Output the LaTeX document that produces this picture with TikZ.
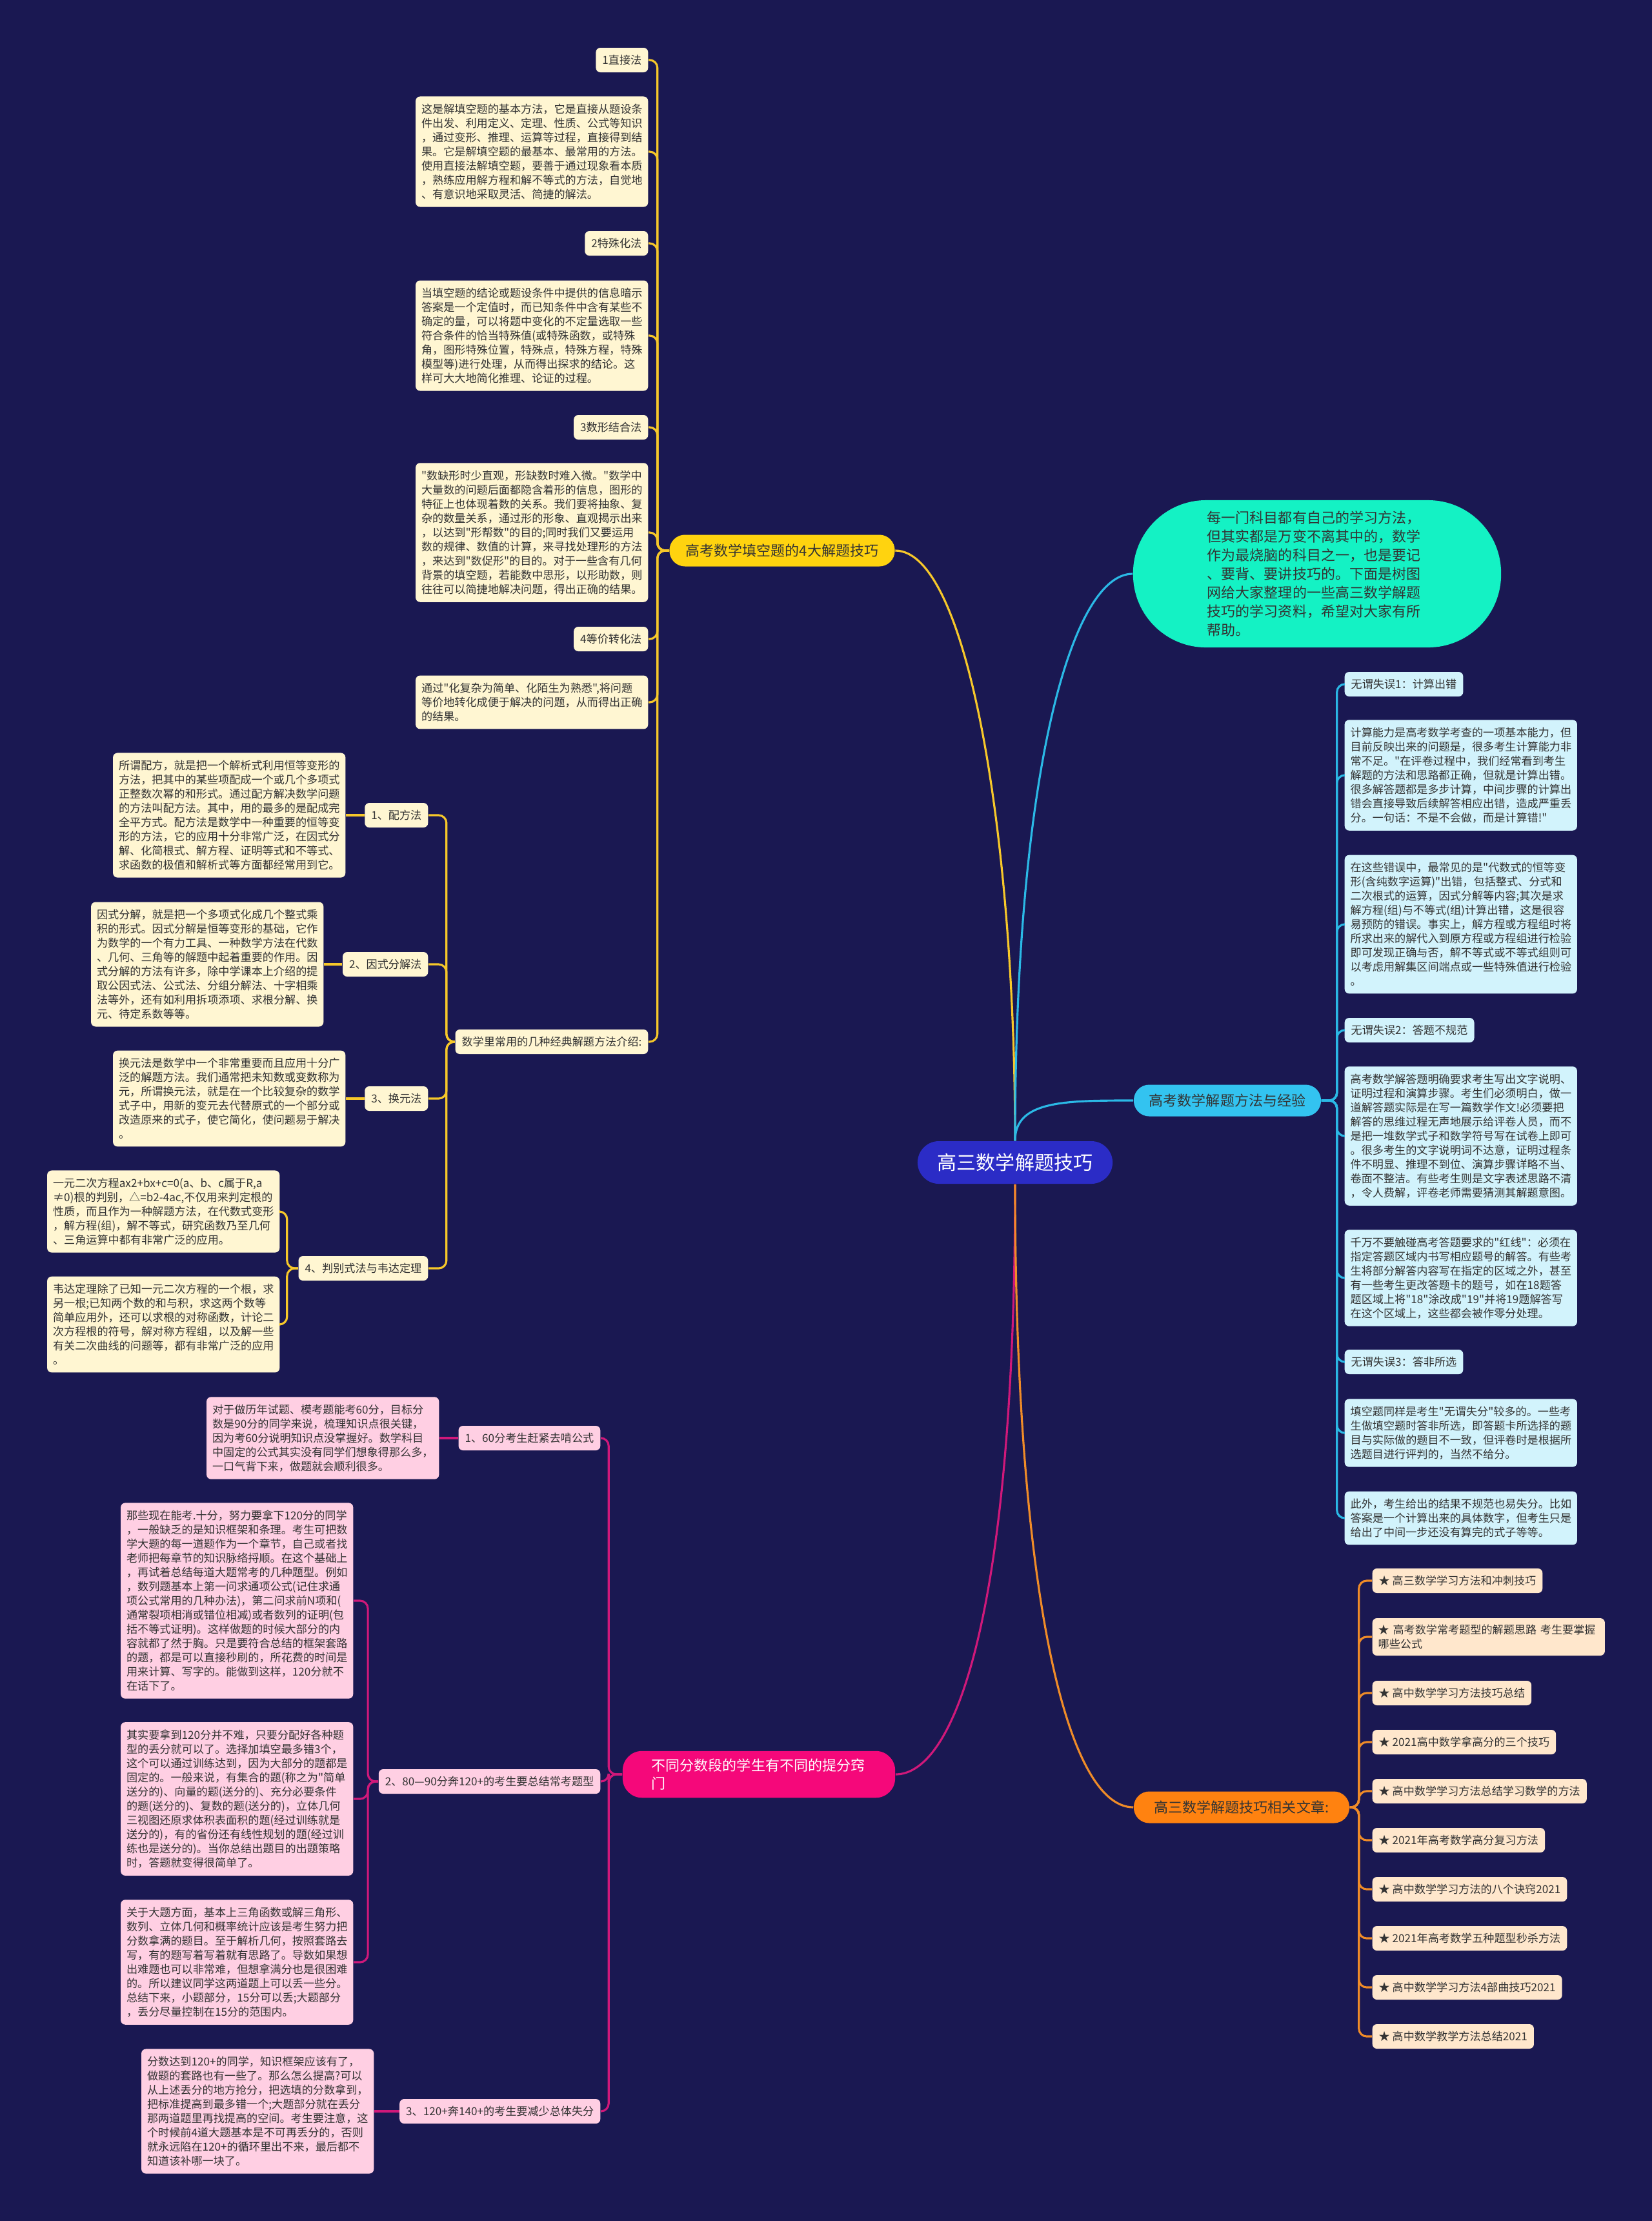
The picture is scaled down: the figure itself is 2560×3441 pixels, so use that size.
\documentclass[tikz,border=0pt]{standalone}
\usepackage{fontspec}
\newfontfamily\notocjk{Noto Sans CJK SC}

\definecolor{bgnavy}{HTML}{1A1852}
\definecolor{rootblue}{HTML}{2B2CC6}
\definecolor{goldline}{HTML}{F7C82A}
\definecolor{goldfill}{HTML}{FFD30F}
\definecolor{creamfill}{HTML}{FFF6D2}
\definecolor{pinkline}{HTML}{D0187A}
\definecolor{pinkfill}{HTML}{F5087A}
\definecolor{rosefill}{HTML}{FFCFE3}
\definecolor{skyline}{HTML}{2BB9E6}
\definecolor{skyfill}{HTML}{33C3F0}
\definecolor{icefill}{HTML}{D2F3FC}
\definecolor{aquafill}{HTML}{14F2C4}
\definecolor{amberline}{HTML}{F08C28}
\definecolor{amberfill}{HTML}{FF8210}
\definecolor{peachfill}{HTML}{FFE7CC}
\definecolor{inkdark}{HTML}{333333}

\newcommand\leafsize{\notocjk\fontsize{4.87pt}{6.26pt}\selectfont}
\newcommand\branchsize{\notocjk\fontsize{6.26pt}{7.5pt}\selectfont}
\newcommand\pinksize{\notocjk\fontsize{6.26pt}{7.97pt}\selectfont}
\newcommand\introsize{\notocjk\fontsize{6.26pt}{8.25pt}\selectfont}
\newcommand\rootsize{\notocjk\fontsize{8.54pt}{10pt}\selectfont}

\begin{document}
\begin{tikzpicture}[x=0.01cm, y=-0.01cm,
    leafbox/.style={rectangle, rounded corners=0.07cm, text=inkdark, font=\leafsize, align=left, text width=3.42cm, inner xsep=0.09cm, inner ysep=0.115cm},
    tagbox/.style={rectangle, rounded corners=0.07cm, text=inkdark, font=\leafsize, inner xsep=0.1cm, inner ysep=0pt, minimum height=0.38cm},
    branchbox/.style={rectangle, rounded corners=0.24cm, text=inkdark, font=\branchsize, minimum height=0.49cm, inner ysep=0pt},
    wire/.style={line width=0.9pt, rounded corners=0.12cm}]

    \fill[bgnavy] (0,0) rectangle (2560,3441);
    \useasboundingbox (0,0) rectangle (2560,3441);

    % centre
    \node[rectangle, rounded corners=0.33cm, fill=rootblue, text=white, font=\rootsize, minimum width=3.02cm, minimum height=0.66cm] (Root) at (1573,1801) {高三数学解题技巧};

    % yellow branch
    \node[branchbox, fill=goldfill, minimum width=3.49cm] (FillTips) at (1212,853) {高考数学填空题的4大解题技巧};
    \node[tagbox, fill=creamfill, anchor=east] (Direct) at (1005,93) {1直接法};
    \node[leafbox, fill=creamfill, anchor=east] (DirectNote) at (1005,235) {这是解填空题的基本方法，它是直接从题设条\\件出发、利用定义、定理、性质、公式等知识\\，通过变形、推理、运算等过程，直接得到结\\果。它是解填空题的最基本、最常用的方法。\\使用直接法解填空题，要善于通过现象看本质\\，熟练应用解方程和解不等式的方法，自觉地\\、有意识地采取灵活、简捷的解法。};
    \node[tagbox, fill=creamfill, anchor=east] (Special) at (1005,377) {2特殊化法};
    \node[leafbox, fill=creamfill, anchor=east] (SpecialNote) at (1005,520) {当填空题的结论或题设条件中提供的信息暗示\\答案是一个定值时，而已知条件中含有某些不\\确定的量，可以将题中变化的不定量选取一些\\符合条件的恰当特殊值(或特殊函数，或特殊\\角，图形特殊位置，特殊点，特殊方程，特殊\\模型等)进行处理，从而得出探求的结论。这\\样可大大地简化推理、论证的过程。};
    \node[tagbox, fill=creamfill, anchor=east] (Shape) at (1005,662) {3数形结合法};
    \node[leafbox, fill=creamfill, anchor=east] (ShapeNote) at (1005,825) {"数缺形时少直观，形缺数时难入微。"数学中\\大量数的问题后面都隐含着形的信息，图形的\\特征上也体现着数的关系。我们要将抽象、复\\杂的数量关系，通过形的形象、直观揭示出来\\，以达到"形帮数"的目的;同时我们又要运用\\数的规律、数值的计算，来寻找处理形的方法\\，来达到"数促形"的目的。对于一些含有几何\\背景的填空题，若能数中思形，以形助数，则\\往往可以简捷地解决问题，得出正确的结果。};
    \node[tagbox, fill=creamfill, anchor=east] (Equiv) at (1005,990) {4等价转化法};
    \node[leafbox, fill=creamfill, anchor=east] (EquivNote) at (1005,1088) {通过"化复杂为简单、化陌生为熟悉",将问题\\等价地转化成便于解决的问题，从而得出正确\\的结果。};
    \node[tagbox, fill=creamfill, anchor=east] (Classic) at (1005,1614) {数学里常用的几种经典解题方法介绍:};

    \node[tagbox, fill=creamfill, anchor=east] (Square) at (664,1263) {1、配方法};
    \node[leafbox, fill=creamfill, anchor=east] (SquareNote) at (536,1263) {所谓配方，就是把一个解析式利用恒等变形的\\方法，把其中的某些项配成一个或几个多项式\\正整数次幂的和形式。通过配方解决数学问题\\的方法叫配方法。其中，用的最多的是配成完\\全平方式。配方法是数学中一种重要的恒等变\\形的方法，它的应用十分非常广泛，在因式分\\解、化简根式、解方程、证明等式和不等式、\\求函数的极值和解析式等方面都经常用到它。};
    \node[tagbox, fill=creamfill, anchor=east] (Factor) at (664,1494) {2、因式分解法};
    \node[leafbox, fill=creamfill, anchor=east] (FactorNote) at (502,1494) {因式分解，就是把一个多项式化成几个整式乘\\积的形式。因式分解是恒等变形的基础，它作\\为数学的一个有力工具、一种数学方法在代数\\、几何、三角等的解题中起着重要的作用。因\\式分解的方法有许多，除中学课本上介绍的提\\取公因式法、公式法、分组分解法、十字相乘\\法等外，还有如利用拆项添项、求根分解、换\\元、待定系数等等。};
    \node[tagbox, fill=creamfill, anchor=east] (Subst) at (664,1702) {3、换元法};
    \node[leafbox, fill=creamfill, anchor=east] (SubstNote) at (536,1702) {换元法是数学中一个非常重要而且应用十分广\\泛的解题方法。我们通常把未知数或变数称为\\元，所谓换元法，就是在一个比较复杂的数学\\式子中，用新的变元去代替原式的一个部分或\\改造原来的式子，使它简化，使问题易于解决\\。};
    \node[tagbox, fill=creamfill, anchor=east] (Discrim) at (664,1965) {4、判别式法与韦达定理};
    \node[leafbox, fill=creamfill, anchor=east] (DiscrimNote) at (434,1877) {一元二次方程ax2+bx+c=0(a、b、c属于R,a\\≠0)根的判别，△=b2-4ac,不仅用来判定根的\\性质，而且作为一种解题方法，在代数式变形\\，解方程(组)，解不等式，研究函数乃至几何\\、三角运算中都有非常广泛的应用。};
    \node[leafbox, fill=creamfill, anchor=east] (VietaNote) at (434,2052) {韦达定理除了已知一元二次方程的一个根，求\\另一根;已知两个数的和与积，求这两个数等\\简单应用外，还可以求根的对称函数，计论二\\次方程根的符号，解对称方程组，以及解一些\\有关二次曲线的问题等，都有非常广泛的应用\\。};

    \draw[wire, goldline] (FillTips.west) -- ++(-18,0) |- (Direct.east);
    \draw[wire, goldline] (FillTips.west) -- ++(-18,0) |- (DirectNote.east);
    \draw[wire, goldline] (FillTips.west) -- ++(-18,0) |- (Special.east);
    \draw[wire, goldline] (FillTips.west) -- ++(-18,0) |- (SpecialNote.east);
    \draw[wire, goldline] (FillTips.west) -- ++(-18,0) |- (Shape.east);
    \draw[wire, goldline] (FillTips.west) -- ++(-18,0) |- (ShapeNote.east);
    \draw[wire, goldline] (FillTips.west) -- ++(-18,0) |- (Equiv.east);
    \draw[wire, goldline] (FillTips.west) -- ++(-18,0) |- (EquivNote.east);
    \draw[wire, goldline] (FillTips.west) -- ++(-18,0) |- (Classic.east);
    \draw[wire, goldline] (Classic.west) -- ++(-13,0) |- (Square.east);
    \draw[wire, goldline] (Classic.west) -- ++(-13,0) |- (Factor.east);
    \draw[wire, goldline] (Classic.west) -- ++(-13,0) |- (Subst.east);
    \draw[wire, goldline] (Classic.west) -- ++(-13,0) |- (Discrim.east);
    \draw[wire, goldline] (Square.west) -- (SquareNote.east);
    \draw[wire, goldline] (Factor.west) -- (FactorNote.east);
    \draw[wire, goldline] (Subst.west) -- (SubstNote.east);
    \draw[wire, goldline] (Discrim.west) -- ++(-17,0) |- (DiscrimNote.east);
    \draw[wire, goldline] (Discrim.west) -- ++(-17,0) |- (VietaNote.east);

    % pink branch
    \node[branchbox, fill=pinkfill, text=white, font=\pinksize, align=left, text width=3.32cm, inner xsep=0.45cm, inner ysep=0.12cm, rounded corners=0.3cm] (ScoreTips) at (1176,2749) {不同分数段的学生有不同的提分窍\\门};
    \node[tagbox, fill=rosefill, anchor=east] (Score60) at (931,2228) {1、60分考生赶紧去啃公式};
    \node[leafbox, fill=rosefill, anchor=east] (Score60Note) at (681,2228) {对于做历年试题、模考题能考60分，目标分\\数是90分的同学来说，梳理知识点很关键，\\因为考60分说明知识点没掌握好。数学科目\\中固定的公式其实没有同学们想象得那么多，\\一口气背下来，做题就会顺利很多。};
    \node[tagbox, fill=rosefill, anchor=east] (Score120) at (931,2760) {2、80—90分奔120+的考生要总结常考题型};
    \node[leafbox, fill=rosefill, anchor=east] (Score120NoteA) at (548,2480) {那些现在能考.十分，努力要拿下120分的同学\\，一般缺乏的是知识框架和条理。考生可把数\\学大题的每一道题作为一个章节，自己或者找\\老师把每章节的知识脉络捋顺。在这个基础上\\，再试着总结每道大题常考的几种题型。例如\\，数列题基本上第一问求通项公式(记住求通\\项公式常用的几种办法)，第二问求前N项和(\\通常裂项相消或错位相减)或者数列的证明(包\\括不等式证明)。这样做题的时候大部分的内\\容就都了然于胸。只是要符合总结的框架套路\\的题，都是可以直接秒刷的，所花费的时间是\\用来计算、写字的。能做到这样，120分就不\\在话下了。};
    \node[leafbox, fill=rosefill, anchor=east] (Score120NoteB) at (548,2787) {其实要拿到120分并不难，只要分配好各种题\\型的丢分就可以了。选择加填空最多错3个，\\这个可以通过训练达到，因为大部分的题都是\\固定的。一般来说，有集合的题(称之为"简单\\送分的)、向量的题(送分的)、充分必要条件\\的题(送分的)、复数的题(送分的)，立体几何\\三视图还原求体积表面积的题(经过训练就是\\送分的)，有的省份还有线性规划的题(经过训\\练也是送分的)。当你总结出题目的出题策略\\时，答题就变得很简单了。};
    \node[leafbox, fill=rosefill, anchor=east] (Score120NoteC) at (548,3040) {关于大题方面，基本上三角函数或解三角形、\\数列、立体几何和概率统计应该是考生努力把\\分数拿满的题目。至于解析几何，按照套路去\\写，有的题写着写着就有思路了。导数如果想\\出难题也可以非常难，但想拿满分也是很困难\\的。所以建议同学这两道题上可以丢一些分。\\总结下来，小题部分，15分可以丢;大题部分\\，丢分尽量控制在15分的范围内。};
    \node[tagbox, fill=rosefill, anchor=east] (Score140) at (931,3271) {3、120+奔140+的考生要减少总体失分};
    \node[leafbox, fill=rosefill, anchor=east] (Score140Note) at (580,3271) {分数达到120+的同学，知识框架应该有了，\\做题的套路也有一些了。那么怎么提高?可以\\从上述丢分的地方抢分，把选填的分数拿到，\\把标准提高到最多错一个;大题部分就在丢分\\那两道题里再找提高的空间。考生要注意，这\\个时候前4道大题基本是不可再丢分的，否则\\就永远陷在120+的循环里出不来，最后都不\\知道该补哪一块了。};

    \draw[wire, pinkline] (ScoreTips.west) -- ++(-21,0) |- (Score60.east);
    \draw[wire, pinkline] (ScoreTips.west) -- ++(-21,0) |- (Score120.east);
    \draw[wire, pinkline] (ScoreTips.west) -- ++(-21,0) |- (Score140.east);
    \draw[wire, pinkline] (Score60.west) -- (Score60Note.east);
    \draw[wire, pinkline] (Score120.west) -- ++(-16,0) |- (Score120NoteA.east);
    \draw[wire, pinkline] (Score120.west) -- ++(-16,0) |- (Score120NoteB.east);
    \draw[wire, pinkline] (Score120.west) -- ++(-16,0) |- (Score120NoteC.east);
    \draw[wire, pinkline] (Score140.west) -- (Score140Note.east);

    % intro bubble
    \node[rectangle, rounded corners=1.13cm, fill=aquafill, text=inkdark, font=\introsize, align=left, text width=3.4cm, minimum width=5.7cm, minimum height=2.28cm] (Intro) at (2041,889) {每一门科目都有自己的学习方法，\\但其实都是万变不离其中的，数学\\作为最烧脑的科目之一，也是要记\\、要背、要讲技巧的。下面是树图\\网给大家整理的一些高三数学解题\\技巧的学习资料，希望对大家有所\\帮助。};

    % cyan branch
    \node[branchbox, fill=skyfill, minimum width=2.9cm] (Method) at (1902,1705) {高考数学解题方法与经验};
    \node[tagbox, fill=icefill, anchor=west] (Slip1) at (2083,1060) {无谓失误1：计算出错};
    \node[leafbox, fill=icefill, anchor=west] (Slip1NoteA) at (2083,1201) {计算能力是高考数学考查的一项基本能力，但\\目前反映出来的问题是，很多考生计算能力非\\常不足。"在评卷过程中，我们经常看到考生\\解题的方法和思路都正确，但就是计算出错。\\很多解答题都是多步计算，中间步骤的计算出\\错会直接导致后续解答相应出错，造成严重丢\\分。一句话：不是不会做，而是计算错!"};
    \node[leafbox, fill=icefill, anchor=west] (Slip1NoteB) at (2083,1432) {在这些错误中，最常见的是"代数式的恒等变\\形(含纯数字运算)"出错，包括整式、分式和\\二次根式的运算，因式分解等内容;其次是求\\解方程(组)与不等式(组)计算出错，这是很容\\易预防的错误。事实上，解方程或方程组时将\\所求出来的解代入到原方程或方程组进行检验\\即可发现正确与否，解不等式或不等式组则可\\以考虑用解集区间端点或一些特殊值进行检验\\。};
    \node[tagbox, fill=icefill, anchor=west] (Slip2) at (2083,1596) {无谓失误2：答题不规范};
    \node[leafbox, fill=icefill, anchor=west] (Slip2NoteA) at (2083,1760) {高考数学解答题明确要求考生写出文字说明、\\证明过程和演算步骤。考生们必须明白，做一\\道解答题实际是在写一篇数学作文!必须要把\\解答的思维过程无声地展示给评卷人员，而不\\是把一堆数学式子和数学符号写在试卷上即可\\。很多考生的文字说明词不达意，证明过程条\\件不明显、推理不到位、演算步骤详略不当、\\卷面不整洁。有些考生则是文字表述思路不清\\，令人费解，评卷老师需要猜测其解题意图。};
    \node[leafbox, fill=icefill, anchor=west] (Slip2NoteB) at (2083,1980) {千万不要触碰高考答题要求的"红线"：必须在\\指定答题区域内书写相应题号的解答。有些考\\生将部分解答内容写在指定的区域之外，甚至\\有一些考生更改答题卡的题号，如在18题答\\题区域上将"18"涂改成"19"并将19题解答写\\在这个区域上，这些都会被作零分处理。};
    \node[tagbox, fill=icefill, anchor=west] (Slip3) at (2083,2110) {无谓失误3：答非所选};
    \node[leafbox, fill=icefill, anchor=west] (Slip3NoteA) at (2083,2220) {填空题同样是考生"无谓失分"较多的。一些考\\生做填空题时答非所选，即答题卡所选择的题\\目与实际做的题目不一致，但评卷时是根据所\\选题目进行评判的，当然不给分。};
    \node[leafbox, fill=icefill, anchor=west] (Slip3NoteB) at (2083,2352) {此外，考生给出的结果不规范也易失分。比如\\答案是一个计算出来的具体数字，但考生只是\\给出了中间一步还没有算完的式子等等。};

    \draw[wire, skyline] (Method.east) -- ++(24,0) |- (Slip1.west);
    \draw[wire, skyline] (Method.east) -- ++(24,0) |- (Slip1NoteA.west);
    \draw[wire, skyline] (Method.east) -- ++(24,0) |- (Slip1NoteB.west);
    \draw[wire, skyline] (Method.east) -- ++(24,0) |- (Slip2.west);
    \draw[wire, skyline] (Method.east) -- ++(24,0) |- (Slip2NoteA.west);
    \draw[wire, skyline] (Method.east) -- ++(24,0) |- (Slip2NoteB.west);
    \draw[wire, skyline] (Method.east) -- ++(24,0) |- (Slip3.west);
    \draw[wire, skyline] (Method.east) -- ++(24,0) |- (Slip3NoteA.west);
    \draw[wire, skyline] (Method.east) -- ++(24,0) |- (Slip3NoteB.west);

    % orange branch
    \node[branchbox, fill=amberfill, minimum width=3.34cm] (Related) at (1924,2800) {高三数学解题技巧相关文章:};
    \node[tagbox, fill=peachfill, anchor=west] (Art1) at (2126,2449) {★ 高三数学学习方法和冲刺技巧};
    \node[leafbox, fill=peachfill, anchor=west, inner ysep=0.1cm] (Art2) at (2126,2536) {★~高考数学常考题型的解题思路~考生要掌握\\哪些公式};
    \node[tagbox, fill=peachfill, anchor=west] (Art3) at (2126,2623) {★ 高中数学学习方法技巧总结};
    \node[tagbox, fill=peachfill, anchor=west] (Art4) at (2126,2699) {★ 2021高中数学拿高分的三个技巧};
    \node[tagbox, fill=peachfill, anchor=west] (Art5) at (2126,2775) {★ 高中数学学习方法总结学习数学的方法};
    \node[tagbox, fill=peachfill, anchor=west] (Art6) at (2126,2851) {★ 2021年高考数学高分复习方法};
    \node[tagbox, fill=peachfill, anchor=west] (Art7) at (2126,2927) {★ 高中数学学习方法的八个诀窍2021};
    \node[tagbox, fill=peachfill, anchor=west] (Art8) at (2126,3003) {★ 2021年高考数学五种题型秒杀方法};
    \node[tagbox, fill=peachfill, anchor=west] (Art9) at (2126,3079) {★ 高中数学学习方法4部曲技巧2021};
    \node[tagbox, fill=peachfill, anchor=west] (Art10) at (2126,3155) {★ 高中数学教学方法总结2021};

    \draw[wire, amberline] (Related.east) -- ++(14,0) |- (Art1.west);
    \draw[wire, amberline] (Related.east) -- ++(14,0) |- (Art2.west);
    \draw[wire, amberline] (Related.east) -- ++(14,0) |- (Art3.west);
    \draw[wire, amberline] (Related.east) -- ++(14,0) |- (Art4.west);
    \draw[wire, amberline] (Related.east) -- ++(14,0) |- (Art5.west);
    \draw[wire, amberline] (Related.east) -- ++(14,0) |- (Art6.west);
    \draw[wire, amberline] (Related.east) -- ++(14,0) |- (Art7.west);
    \draw[wire, amberline] (Related.east) -- ++(14,0) |- (Art8.west);
    \draw[wire, amberline] (Related.east) -- ++(14,0) |- (Art9.west);
    \draw[wire, amberline] (Related.east) -- ++(14,0) |- (Art10.west);

    % main connectors from the centre
    \draw[wire, goldline] (Root.north) .. controls (1573,1300) and (1500,853) .. (FillTips.east);
    \draw[wire, skyline] (Root.north) .. controls (1573,1200) and (1660,889) .. (Intro.west);
    \draw[wire, skyline] (Root.north) .. controls (1573,1705) and (1650,1705) .. (Method.west);
    \draw[wire, pinkline] (Root.south) .. controls (1573,2500) and (1480,2749) .. (ScoreTips.east);
    \draw[wire, amberline] (Root.south) .. controls (1573,2450) and (1650,2800) .. (Related.west);
\end{tikzpicture}
\end{document}
